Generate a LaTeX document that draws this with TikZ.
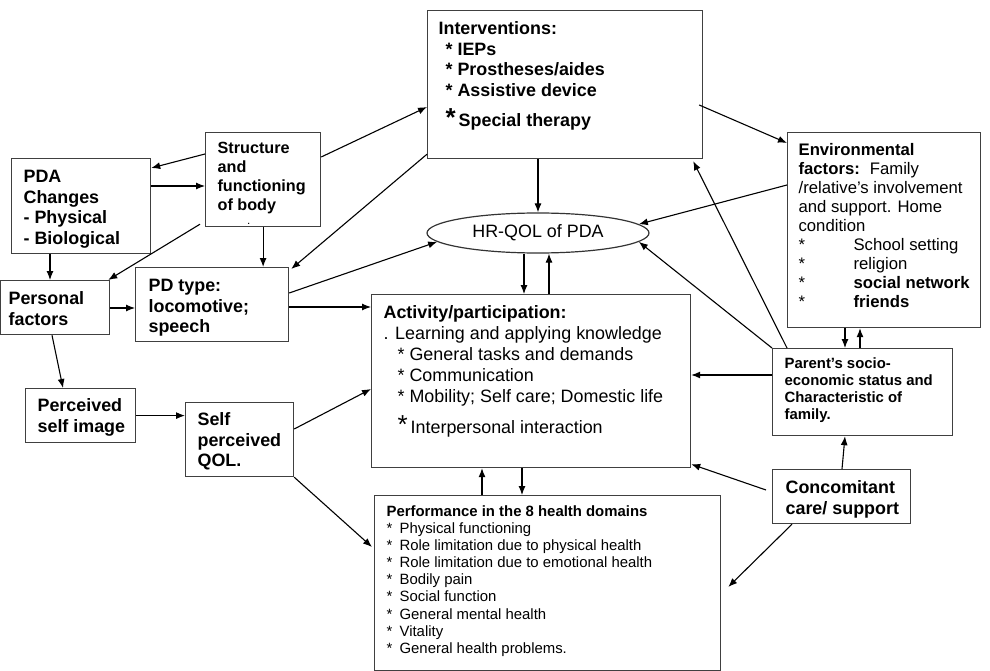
\documentclass[tikz,border=0pt]{standalone}
\usepackage{fontspec}
\setmainfont{Liberation Sans}
\usetikzlibrary{shapes.geometric,arrows.meta,calc}

\begin{document}
\begin{tikzpicture}[x=1pt,y=-1pt]
% Styles
\tikzstyle{fleche}=[->,>={Latex[length=9pt,width=7pt]},line width=1.1pt]
\tikzstyle{boite}=[draw=black!75,line width=1.2pt,inner sep=0pt,anchor=north west]
\tikzstyle{bulle}=[draw=black!80,line width=1.2pt,ellipse,minimum width=222pt,minimum height=40pt,inner sep=0pt]
% Polices
\def\Gros{\fontsize{17.9}{20.5}\selectfont\bfseries}
\def\Moyen{\fontsize{16.2}{19}\selectfont\bfseries}
\def\Petit{\fontsize{14.9}{17.1}\selectfont}
% Cadre : largeur, hauteur, marge gauche, marge haute, texte
\def\Cadre#1#2#3#4#5{\begin{minipage}[t][#2pt][t]{#1pt}\vspace*{#4pt}\leftskip=#3pt #5\end{minipage}}
\def\Puce#1{\makebox[#1pt][l]{*}}
\useasboundingbox (0,0) rectangle (990,671);
% Noeuds
\node[boite] (Int) at (427,10) {\Cadre{275}{148}{11}{11}{\Gros Interventions:\\
  \hspace*{7pt}* IEPs\\
  \hspace*{7pt}* Prostheses/aides\\
  \hspace*{7pt}* Assistive device\\[10pt]
  \hspace*{7pt}{\fontsize{26}{26}\selectfont *}\,Special therapy}};
\node[boite] (Str) at (205,132) {\Cadre{115}{94}{12}{10}{\Moyen Structure\\and\\functioning\\of body\\[-5pt]\hspace*{30pt}{\fontsize{8}{8}\selectfont .}}};
\node[boite] (PDA) at (11,158) {\Cadre{139}{95}{12}{12}{\Gros PDA\\Changes\\- Physical\\- Biological}};
\node[boite] (Pers) at (0,280) {\Cadre{109}{54}{8}{11}{\Gros Personal\\factors}};
\node[boite] (Type) at (135,267) {\Cadre{153}{74}{13}{12}{\Gros PD type:\\locomotive;\\speech}};
\node[bulle] (HRQ) at (538,233) {\fontsize{17.9}{20}\selectfont HR-QOL of PDA};
\node[boite] (Act) at (371,294) {\Cadre{319}{173}{12}{11}{\fontsize{17.9}{21}\selectfont
  \textbf{Activity/participation:}\\
  . Learning and applying knowledge\\
  \hspace*{14pt}* General tasks and demands\\
  \hspace*{14pt}* Communication\\
  \hspace*{14pt}* Mobility; Self care; Domestic life\\[8pt]
  \hspace*{14pt}{\fontsize{26}{26}\selectfont *}\,Interpersonal interaction}};
\node[boite] (Perf) at (374,495) {\Cadre{346}{175}{12}{10}{\Petit
  \textbf{Performance in the 8 health domains}\\
  \Puce{13}Physical functioning\\
  \Puce{13}Role limitation due to physical health\\
  \Puce{13}Role limitation due to emotional health\\
  \Puce{13}Bodily pain\\
  \Puce{13}Social function\\
  \Puce{13}General mental health\\
  \Puce{13}Vitality\\
  \Puce{13}General health problems.}};
\node[boite] (Env) at (787,132) {\Cadre{193}{195}{11}{11}{\fontsize{16.7}{19}\selectfont
  \textbf{Environmental}\\
  \textbf{factors:}\hspace{10pt}Family\\
  /relative’s involvement\\
  and support. Home\\
  condition\\
  \Puce{55}School setting\\
  \Puce{55}religion\\
  \Puce{55}\textbf{social network}\\
  \Puce{55}\textbf{friends}}};
\node[boite] (Par) at (772,348) {\Cadre{180}{87}{12}{9}{\Petit\bfseries Parent’s socio-\\economic status and\\Characteristic of\\family.}};
\node[boite] (Conc) at (772,469) {\Cadre{138}{54}{13}{11}{\Gros Concomitant\\care/ support}};
\node[boite] (Img) at (25,388) {\Cadre{110}{54}{12}{10}{\Gros Perceived\\self image}};
\node[boite] (SQ) at (185,402) {\Cadre{108}{74}{12}{10}{\Gros Self\\perceived\\QOL.}};
% Arcs
\draw[fleche] ($(Str.north west)+(0,22)$) -- ($(PDA.north east)+(0,10)$);
\draw[fleche] ($(PDA.north east)+(0,28)$) -- ($(Str.north west)+(0,54)$);
\draw[fleche] ($(Str.south west)+(-5,-3)$) -- ($(Pers.north east)+(-2,0)$);
\draw[fleche] ($(PDA.south west)+(39,0)$) -- ($(Pers.north west)+(50,0)$);
\draw[fleche] (Str.south) -- (Str.south |- Type.north);
\draw[fleche] ($(Pers.north east)+(0,28)$) -- ($(Type.north west)+(0,41)$);
\draw[fleche] ($(Str.north east)+(0,25)$) -- ($(Int.north west)+(0,97)$);
\draw[fleche] ($(Int.south west)+(0,-5)$) -- ($(Type.north east)+(2,2)$);
\draw[fleche] ($(Type.north east)+(0,26)$) -- (HRQ.185);
\draw[fleche] ($(Type.north east)+(0,40)$) -- ($(Act.north west)+(0,13)$);
\draw[fleche] (Int.south -| HRQ.north) -- (HRQ.north);
\draw[fleche] ($(HRQ.south)+(-14,0)$) -- ($(Act.north west)+(153,0)$);
\draw[fleche] ($(Act.north west)+(178,0)$) -- ($(HRQ.south)+(11,0)$);
\draw[fleche] ($(Int.north east)+(-4,95)$) -- ($(Env.north west)+(0,11)$);
\draw[fleche] ($(Env.north west)+(0,53)$) -- (HRQ.5);
\draw[fleche] (Par.north west) -- (HRQ.-5);
\draw[fleche] ($(Par.north west)+(15,0)$) -- ($(Int.south east)+(-10,2)$);
\draw[fleche] ($(Par.north west)+(0,27)$) -- ($(Act.north east)+(0,81)$);
\draw[fleche] ($(Env.south west)+(58,0)$) -- ($(Par.north west)+(73,0)$);
\draw[fleche] ($(Par.north west)+(88,0)$) -- ($(Env.south west)+(73,0)$);
\draw[fleche] ($(Conc.north west)+(70,0)$) -- ($(Par.south west)+(73,0)$);
\draw[fleche] ($(Conc.north west)+(-6,21)$) -- ($(Act.south east)+(0,-4)$);
\draw[fleche] ($(Conc.south west)+(20,0)$) -- ($(Perf.north east)+(7,92)$);
\draw[fleche] ($(SQ.north east)+(0,27)$) -- ($(Act.north west)+(0,95)$);
\draw[fleche] (SQ.south east) -- ($(Perf.north west)+(-2,52)$);
\draw[fleche] (Img.east) -- (Img.east -| SQ.west);
\draw[fleche] ($(Pers.south west)+(52,0)$) -- ($(Img.north west)+(38,0)$);
\draw[fleche] ($(Perf.north west)+(108,0)$) -- ($(Act.south west)+(111,0)$);
\draw[fleche] ($(Act.south west)+(151,0)$) -- ($(Perf.north west)+(148,0)$);
\end{tikzpicture}
\end{document}
